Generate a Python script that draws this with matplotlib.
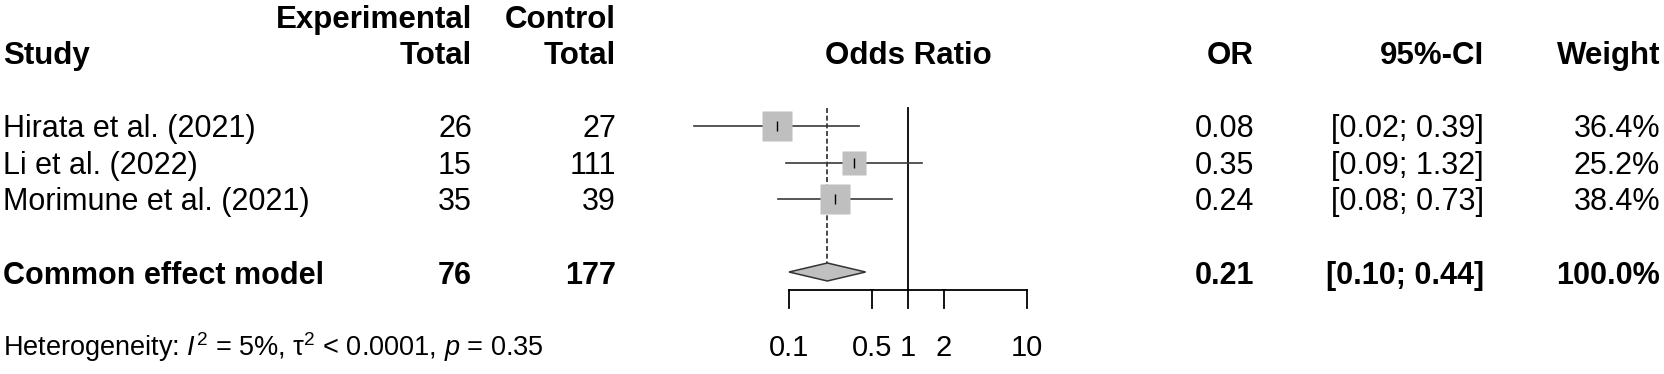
import matplotlib
matplotlib.use("Agg")
import matplotlib.pyplot as plt
import numpy as np

plt.rcParams["font.family"] = ["Liberation Sans", "DejaVu Sans"]
plt.rcParams["mathtext.fontset"] = "custom"
plt.rcParams["mathtext.rm"] = "Liberation Sans"
plt.rcParams["mathtext.it"] = "Liberation Sans:italic"

# data
studies = ["Hirata et al. (2021)", "Li et al. (2022)", "Morimune et al. (2021)"]
exp_total = [26, 15, 35]
ctrl_total = [27, 111, 39]
odds_ratio = [0.079, 0.355, 0.244]
ci_low = [0.016, 0.094, 0.081]
ci_high = [0.39, 1.32, 0.73]
weight = [36.4, 25.2, 38.4]
or_text = ["0.08", "0.35", "0.24"]
ci_text = ["[0.02; 0.39]", "[0.09; 1.32]", "[0.08; 0.73]"]

pooled_label = "Common effect model"
pooled_exp = 76
pooled_ctrl = 177
pooled_or = 0.21
pooled_low = 0.10
pooled_high = 0.44
pooled_text = ["0.21", "[0.10; 0.44]", "100.0%"]
het_text = "Heterogeneity: $I^2$ = 5%, \u03c4$^2$ < 0.0001, $p$ = 0.35"

axis_ticks = [0.1, 0.5, 1, 2, 10]
axis_labels = ["0.1", "0.5", "1", "2", "10"]

# layout (pixels)
W, H = 1665, 374
X_ONE = 908.0      # pixel position of OR = 1
DECADE = 119.0     # pixels per decade
row_y = [126, 163, 199]
pooled_y = 272
axis_y = 290
FS = 22        # table text
FS_HEAD = 22.5
FS_AXIS = 21
FS_HET = 19.5

fig = plt.figure(figsize=(W / 100, H / 100), dpi=100)
fig.set_facecolor("white")

# forest panel: log axes spanning the whole figure
ax = fig.add_axes([0, 0, 1, 1])
ax.set_xscale("log")
ax.set_xlim(10 ** (-X_ONE / DECADE), 10 ** ((W - X_ONE) / DECADE))
ax.set_ylim(H, 0)
ax.axis("off")

# text panel in pixel coordinates
tx = fig.add_axes([0, 0, 1, 1], facecolor="none")
tx.set_xlim(0, W)
tx.set_ylim(H, 0)
tx.axis("off")

# reference lines
ax.plot([1, 1], [108, axis_y], color="black", lw=1.3)
ax.plot([pooled_or, pooled_or], [108, pooled_y - 9], color="#2a2a2a", lw=1.2,
        linestyle=(0, (3, 1.6)))

# studies
max_w = max(weight)
for i in range(len(studies)):
    y = row_y[i]
    ax.plot([ci_low[i], ci_high[i]], [y, y], color="#3a3a3a", lw=1.2, zorder=2)
    ms = 21.8 * np.sqrt(weight[i] / max_w)
    ax.plot(odds_ratio[i], y, marker="s", ms=ms, color="#bfbfbf", mec="none", zorder=3)
    ax.plot(odds_ratio[i], y, marker="|", ms=6.5, color="black", mew=1.0, zorder=4)

# pooled diamond
ax.fill([pooled_low, pooled_or, pooled_high, pooled_or],
        [pooled_y, pooled_y - 9, pooled_y, pooled_y + 9],
        facecolor="#c0c0c0", edgecolor="#333333", lw=1.1, zorder=3)

# x axis
ax.plot([axis_ticks[0], axis_ticks[-1]], [axis_y, axis_y], color="black", lw=1.3)
for t, lab in zip(axis_ticks, axis_labels):
    ax.plot([t, t], [axis_y, axis_y + 18], color="black", lw=1.3)
    ax.text(t, 356, lab, ha="center", va="baseline", fontsize=FS_AXIS)

# headers
hd = dict(va="baseline", fontsize=FS_HEAD, fontweight="bold")
tx.text(3, 64, "Study", ha="left", **hd)
tx.text(472, 28, "Experimental", ha="right", **hd)
tx.text(472, 64, "Total", ha="right", **hd)
tx.text(616, 28, "Control", ha="right", **hd)
tx.text(616, 64, "Total", ha="right", **hd)
tx.text(X_ONE, 64, "Odds Ratio", ha="center", **hd)
tx.text(1254, 64, "OR", ha="right", **hd)
tx.text(1484, 64, "95%-CI", ha="right", **hd)
tx.text(1660, 64, "Weight", ha="right", **hd)

# study rows
for i in range(len(studies)):
    yb = row_y[i] + 11
    tx.text(3, yb, studies[i], ha="left", va="baseline", fontsize=FS)
    tx.text(472, yb, str(exp_total[i]), ha="right", va="baseline", fontsize=FS)
    tx.text(616, yb, str(ctrl_total[i]), ha="right", va="baseline", fontsize=FS)
    tx.text(1254, yb, or_text[i], ha="right", va="baseline", fontsize=FS)
    tx.text(1484, yb, ci_text[i], ha="right", va="baseline", fontsize=FS)
    tx.text(1660, yb, f"{weight[i]:.1f}%", ha="right", va="baseline", fontsize=FS)

# pooled row
yb = 284
bd = dict(va="baseline", fontsize=FS, fontweight="bold")
tx.text(3, yb, pooled_label, ha="left", **bd)
tx.text(472, yb, str(pooled_exp), ha="right", **bd)
tx.text(616, yb, str(pooled_ctrl), ha="right", **bd)
tx.text(1254, yb, pooled_text[0], ha="right", **bd)
tx.text(1484, yb, pooled_text[1], ha="right", **bd)
tx.text(1660, yb, pooled_text[2], ha="right", **bd)

tx.text(3, 356, het_text, ha="left", va="baseline", fontsize=FS_HET)

plt.savefig("out.png", dpi=100)
plt.close()
